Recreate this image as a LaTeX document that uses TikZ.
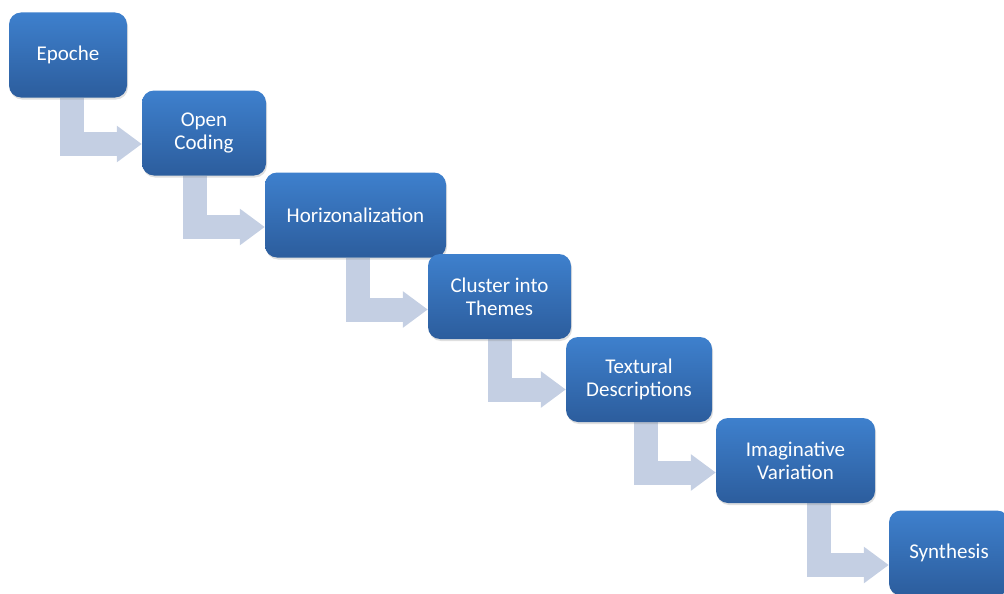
\documentclass[tikz,border=0pt]{standalone}
\usepackage{fontspec}
\setmainfont{Carlito}
\usetikzlibrary{arrows.meta,backgrounds,shadows}

\definecolor{boxtop}{HTML}{3E80CD}
\definecolor{boxbottom}{HTML}{2C5D9D}
\definecolor{arrowfill}{HTML}{C4CFE3}

\tikzset{
  stage/.style={rounded corners=12pt, top color=boxtop, bottom color=boxbottom,
    text=white, align=center, minimum height=85pt, inner sep=0pt,
    drop shadow={opacity=0.25, shadow xshift=1pt, shadow yshift=-2pt}},
  bent/.style={draw=arrowfill, line width=24pt, line join=miter,
    -{Triangle[width=35pt,length=25pt]}}
}

\begin{document}
\begin{tikzpicture}[x=1pt, y=-1pt, font=\fontsize{21}{23}\selectfont]

\useasboundingbox (0,0) rectangle (1004,594);

% draw the stages

\node[stage, minimum width=118pt] (epoche) at (68,55) {Epoche};
\node[stage, minimum width=124pt] (coding) at (204,133) {Open\\Coding};
\node[stage, minimum width=181pt] (horiz) at (355.5,215) {Horizonalization};
\node[stage, minimum width=143pt] (cluster) at (499.5,296.5) {Cluster into\\Themes};
\node[stage, minimum width=146pt] (textural) at (639,379.5) {Textural\\Descriptions};
\node[stage, minimum width=159pt] (imagine) at (795.5,460.5) {Imaginative\\Variation};
\node[stage, minimum width=120pt] (synth) at (949,553) {Synthesis};

% draw bent arrows between the stages

\begin{scope}[on background layer]
\draw[bent] ([xshift=-70pt]coding.west |- epoche.south) |- ([yshift=-11pt]coding.west);
\draw[bent] ([xshift=-70pt]horiz.west |- coding.south) |- ([yshift=-12pt]horiz.west);
\draw[bent] ([xshift=-70pt]cluster.west |- horiz.south) |- ([yshift=-13pt]cluster.west);
\draw[bent] ([xshift=-66pt]textural.west |- cluster.south) |- ([yshift=-10pt]textural.west);
\draw[bent] ([xshift=-70pt]imagine.west |- textural.south) |- ([yshift=-12pt]imagine.west);
\draw[bent] ([xshift=-70pt]synth.west |- imagine.south) |- ([yshift=-12pt]synth.west);
\end{scope}

\end{tikzpicture}
\end{document}
